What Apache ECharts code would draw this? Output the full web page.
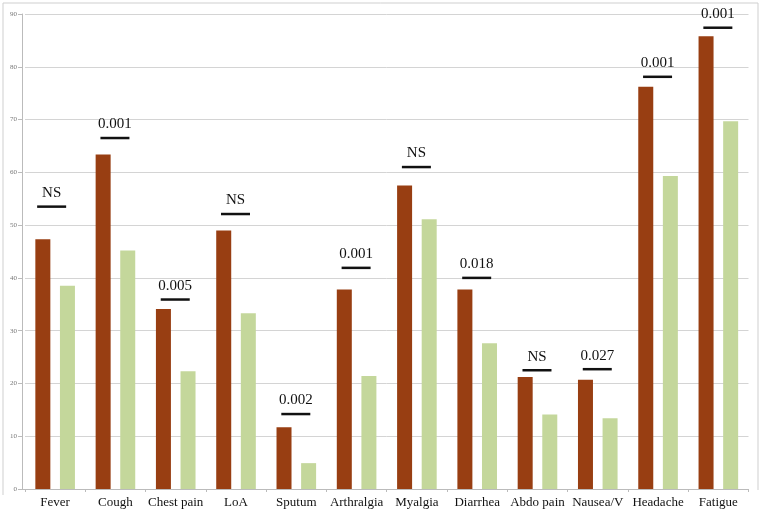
<!DOCTYPE html>
<html><head><meta charset="utf-8">
<script src="https://cdn.jsdelivr.net/npm/echarts@6/dist/echarts.min.js"></script>
<style>html,body{margin:0;padding:0;background:#fff}#c{width:761px;height:521px}</style>
</head><body><div id="c"></div>
<script>
const categories = ['Fever','Cough','Chest pain','LoA','Sputum','Arthralgia','Myalgia','Diarrhea','Abdo pain','Nausea/V','Headache','Fatigue'];
const seriesA = [47.3, 63.4, 34.1, 49.0, 11.7, 37.8, 57.5, 37.8, 21.2, 20.7, 76.2, 85.8];
const seriesB = [38.5, 45.2, 22.3, 33.3, 4.9, 21.4, 51.1, 27.6, 14.1, 13.4, 59.3, 69.7];
const sigLabels = ['NS','0.001','0.005','NS','0.002','0.001','NS','0.018','NS','0.027','0.001','0.001'];
const sigLevels = [53.5, 66.5, 35.9, 52.1, 14.2, 41.9, 61.0, 40.0, 22.5, 22.7, 78.1, 87.4];
const yTicks = [0,10,20,30,40,50,60,70,80,90];

const chart = echarts.init(document.getElementById('c'), null, {renderer:'canvas'});
chart.setOption({
  animation:false,
  backgroundColor:'#fff',
  grid:{left:25,right:12.5,top:14,bottom:32},
  graphic:[
    {type:'polyline',shape:{points:[[3,495],[3,3],[758,3],[758,490]]},style:{stroke:'#cfcfcf',lineWidth:1,fill:null},silent:true},
    {type:'line',shape:{x1:22,y1:489.5,x2:25,y2:489.5},style:{stroke:'#bbbbbb',lineWidth:1},silent:true}
  ],
  xAxis:{
    type:'category', data:categories,
    axisLine:{lineStyle:{color:'#bbbbbb'}},
    axisTick:{show:true,length:3,lineStyle:{color:'#bbbbbb'}},
    axisLabel:{color:'#111',fontFamily:'Liberation Serif',fontSize:13,margin:7,interval:0}
  },
  yAxis:{
    type:'value', min:0, max:90, interval:10, offset:3,
    axisLine:{show:true,lineStyle:{color:'#bbbbbb'}},
    axisTick:{show:true,length:4,lineStyle:{color:'#bbbbbb'}},
    axisLabel:{color:'#777',fontFamily:'Liberation Serif',fontSize:7,margin:5,
      formatter:function(v){return yTicks.indexOf(v)>=0?String(v):'';}},
    splitLine:{lineStyle:{color:'#d4d4d4'}}
  },
  series:[
    {type:'bar',data:seriesA,barWidth:15,barGap:'64%',itemStyle:{color:'#983e12'}},
    {type:'bar',data:seriesB,barWidth:15,itemStyle:{color:'#c4d79b'}},
    {type:'custom',
     data:sigLevels.map((v,i)=>[i,v]),
     renderItem:function(params,api){
       const i=api.value(0), v=api.value(1);
       const p=api.coord([i,v]);
       const cx=p[0]-(i===0?3.5:0.5), half=14.5;
       return {type:'group',children:[
         {type:'line',shape:{x1:cx-half,y1:p[1],x2:cx+half,y2:p[1]},style:{stroke:'#111',lineWidth:2.5}},
         {type:'text',x:cx,y:p[1]-6,style:{text:sigLabels[params.dataIndex],fill:'#111',font:'15px "Liberation Serif"',align:'center',verticalAlign:'bottom'}}
       ]};
     },
     z:5}
  ]
});
</script></body></html>
